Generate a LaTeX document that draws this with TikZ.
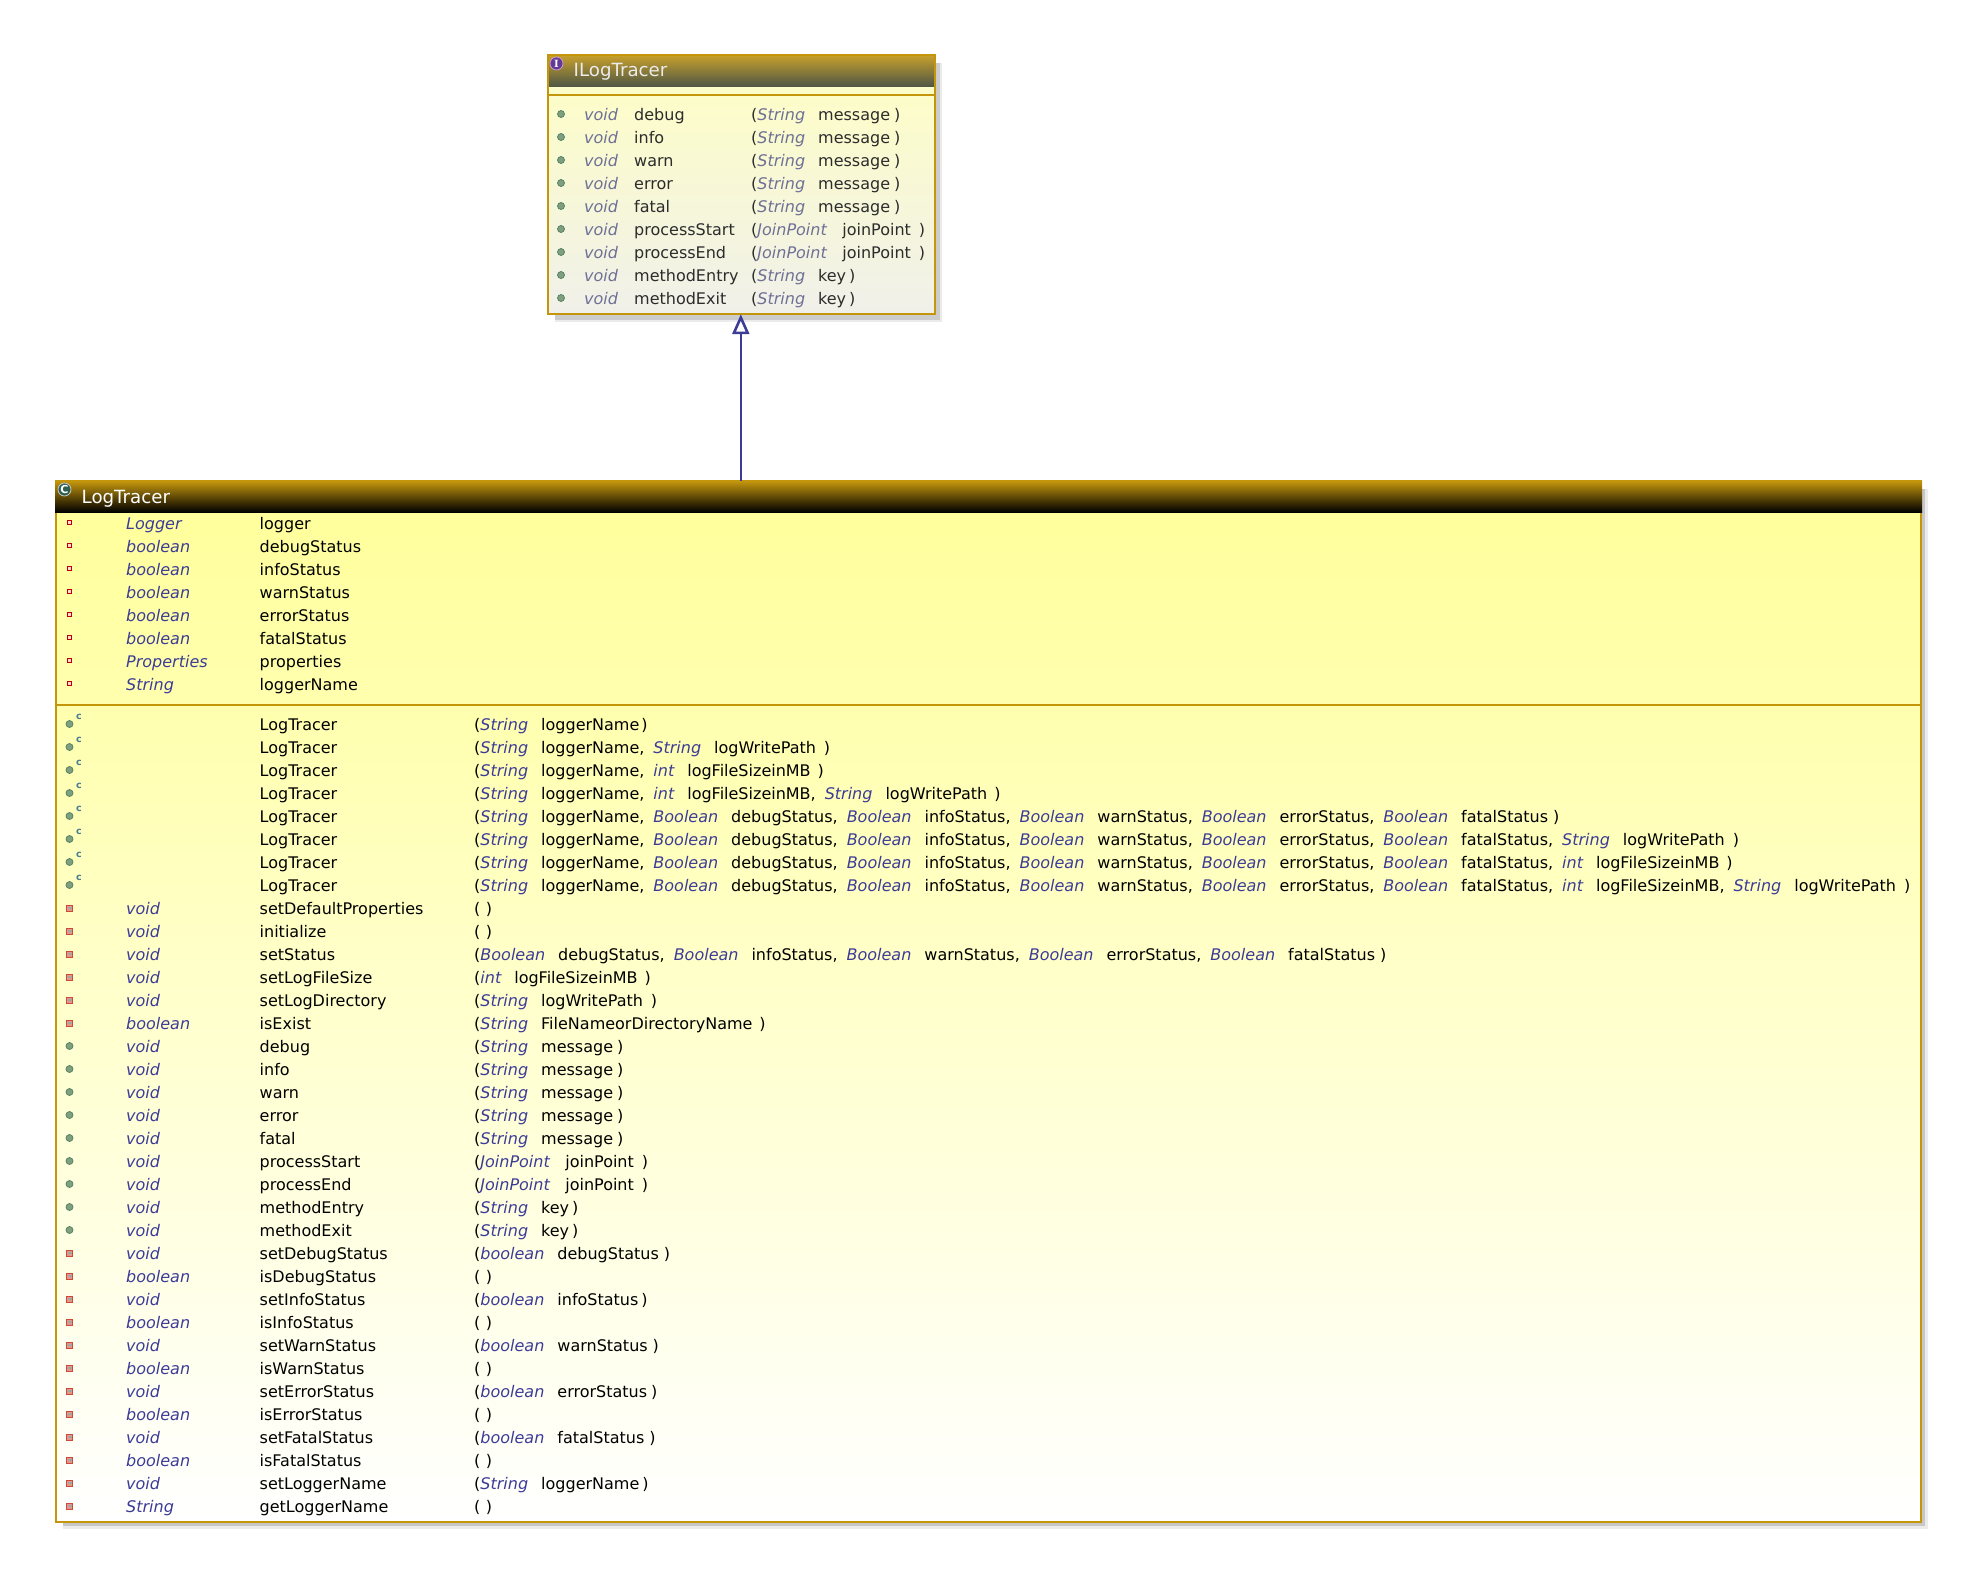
\documentclass[tikz,border=0pt]{standalone}
\usepackage{fontspec}
\setmainfont{DejaVu Sans}
\newfontfamily\iconfont{DejaVu Serif}
\usetikzlibrary{arrows.meta,positioning}
\definecolor{gold}{HTML}{C4960C}
\definecolor{typeblue}{HTML}{3C3C98}
\definecolor{typefade}{HTML}{6E7096}
\definecolor{namefade}{HTML}{2C2C2C}
\definecolor{navyline}{HTML}{3C3C96}
\definecolor{pubfill}{HTML}{7F9F7F}
\definecolor{pubedge}{HTML}{4F7F5F}
\definecolor{privedge}{HTML}{CC4A3C}
\definecolor{privfill}{HTML}{E09888}
\definecolor{classicon}{HTML}{2F5F4F}
\newcommand{\parm}[3][typeblue]{{\color{#1}\itshape #2}\hspace{13pt}#3}
\newcommand{\nx}{,\hspace{9pt}}
\newcommand{\cp}[1]{\hspace{#1pt})}
\newcommand{\jp}{JoinPoint\hspace{2.5pt}}
\tikzset{
 rowtext/.style={anchor=base west, inner sep=0pt, font=\fontsize{16}{18}\selectfont},
 typetext/.style={rowtext, text=typeblue, font=\fontsize{16}{18}\selectfont\itshape},
 fadetype/.style={typetext, text=typefade},
 fadetext/.style={rowtext, text=namefade},
 titletext/.style={anchor=base west, inner sep=0pt, font=\fontsize{18.2}{20}\selectfont},
 classbody/.style={rectangle, inner sep=0pt},
 shadowbox/.style={fill=#1, draw=none},
 framebox/.style={draw=gold, line width=2.3pt},
 sepline/.style={draw=gold, line width=2pt},
 pubmark/.style={circle, inner sep=0pt, minimum size=7pt, fill=pubfill, draw=pubedge, line width=0.7pt},
 ctormark/.style={pubmark, label={[ctorc]35:c}},
 ctorc/.style={inner sep=0pt, label distance=4pt, text=black!45!cyan, font=\fontsize{9.5}{10}\bfseries\selectfont},
 fieldmark/.style={rectangle, inner sep=0pt, minimum size=4pt, fill=white!85!red, draw=red!75!black, line width=1.1pt},
 privmark/.style={rectangle, inner sep=0pt, minimum size=6pt, fill=privfill, draw=privedge, line width=1pt,
  path picture={\fill [black!35] ([shift={(-2,-0.7)}]path picture bounding box.center) rectangle ([shift={(2,0.7)}]path picture bounding box.center);}},
 iconmark/.style={circle, inner sep=0pt, minimum size=13pt, line width=0.8pt, text=white, font=\iconfont\fontsize{10}{10}\bfseries\selectfont}
}
\begin{document}
\begin{tikzpicture}[x=1pt,y=-1pt]
 \useasboundingbox (0,0) rectangle (1976,1577);

 \fill [shadowbox=black!8] (555,63) rectangle (942,322);
 \fill [shadowbox=black!20] (555,63) rectangle (940,320);
 \fill [shadowbox=black!8] (63,489) rectangle (1928,1529);
 \fill [shadowbox=black!22] (63,489) rectangle (1925,1526);

 \node (ilog) [classbody, minimum width=387pt, minimum height=259pt, top color={rgb,255:red,255;green,255;blue,196}, bottom color={rgb,255:red,240;green,240;blue,234}] at (741.5,184.5) {};
 \node (ilogtitle) [classbody, minimum width=387pt, minimum height=31pt, anchor=north, top color={rgb,255:red,200;green,160;blue,44}, bottom color={rgb,255:red,80;green,88;blue,70}] at (ilog.north) {};
 \draw [framebox] (ilog.north west) rectangle (ilog.south east);
 \draw [sepline] (ilog.west |- 0,95) -- (ilog.east |- 0,95);
 \node (ilogicon) [iconmark, fill=violet!60!blue!70!white!75!black, draw=white!60!violet] at (556.5,63.5) {I};
 \node (ilogname) [titletext, text=white!92!black] at (573.5,76) {ILogTracer};

 \foreach \nm/\argl [count=\i from 0] in {
  debug/{\parm[typefade]{String}{message}\cp{4}},
  info/{\parm[typefade]{String}{message}\cp{4}},
  warn/{\parm[typefade]{String}{message}\cp{4}},
  error/{\parm[typefade]{String}{message}\cp{4}},
  fatal/{\parm[typefade]{String}{message}\cp{4}},
  processStart/{\parm[typefade]{\jp}{joinPoint}\cp{8}},
  processEnd/{\parm[typefade]{\jp}{joinPoint}\cp{8}},
  methodEntry/{\parm[typefade]{String}{key}\cp{3}},
  methodExit/{\parm[typefade]{String}{key}\cp{3}}} {
  \node (ilm\i) [pubmark] at (561,{114+23*\i}) {};
  \node (ilt\i) [fadetype] at (584,{120+23*\i}) {void};
  \node (iln\i) [fadetext] at (634,{120+23*\i}) {\nm};
  \node (ila\i) [fadetext] at (751,{120+23*\i}) {(\argl};
 }

 \node (log) [classbody, minimum width=1865pt, minimum height=1041pt, top color=yellow!40!white, bottom color=white] at (988.5,1001.5) {};
 \draw [framebox] (log.north west) rectangle (log.south east);
 \node (logtitle) [classbody, minimum width=1867pt, minimum height=31pt, anchor=north, top color=gold, bottom color=black] at (log.north) {};
 \draw [sepline] (log.west |- 0,705) -- (log.east |- 0,705);
 \node (logicon) [iconmark, fill=classicon, draw=white!55!gray, font=\fontsize{11}{11}\bfseries\selectfont] at (64.5,489.5) {C};
 \node (logname) [titletext, text=white] at (81.5,503.5) {LogTracer};

 \foreach \ftype/\nm [count=\i from 0] in {Logger/logger, boolean/debugStatus, boolean/infoStatus, boolean/warnStatus, boolean/errorStatus, boolean/fatalStatus, Properties/properties, String/loggerName} {
  \node (fm\i) [fieldmark] at (69.5,{522.5+23*\i}) {};
  \node (ft\i) [typetext] at (126,{529.5+23*\i}) {\ftype};
  \node (fn\i) [rowtext] at (259.5,{529.5+23*\i}) {\nm};
 }

 \foreach \mk/\rtype/\nm/\argl [count=\i from 0] in {
  ctormark//LogTracer/{\parm{String}{loggerName}\cp{2}},
  ctormark//LogTracer/{\parm{String}{loggerName}\nx\parm{String}{logWritePath}\cp{8}},
  ctormark//LogTracer/{\parm{String}{loggerName}\nx\parm{int}{logFileSizeinMB}\cp{7}},
  ctormark//LogTracer/{\parm{String}{loggerName}\nx\parm{int}{logFileSizeinMB}\nx\parm{String}{logWritePath}\cp{7}},
  ctormark//LogTracer/{\parm{String}{loggerName}\nx\parm{Boolean}{debugStatus}\nx\parm{Boolean}{infoStatus}\nx\parm{Boolean}{warnStatus}\nx\parm{Boolean}{errorStatus}\nx\parm{Boolean}{fatalStatus}\cp{5}},
  ctormark//LogTracer/{\parm{String}{loggerName}\nx\parm{Boolean}{debugStatus}\nx\parm{Boolean}{infoStatus}\nx\parm{Boolean}{warnStatus}\nx\parm{Boolean}{errorStatus}\nx\parm{Boolean}{fatalStatus}\nx\parm{String}{logWritePath}\cp{8}},
  ctormark//LogTracer/{\parm{String}{loggerName}\nx\parm{Boolean}{debugStatus}\nx\parm{Boolean}{infoStatus}\nx\parm{Boolean}{warnStatus}\nx\parm{Boolean}{errorStatus}\nx\parm{Boolean}{fatalStatus}\nx\parm{int}{logFileSizeinMB}\cp{7}},
  ctormark//LogTracer/{\parm{String}{loggerName}\nx\parm{Boolean}{debugStatus}\nx\parm{Boolean}{infoStatus}\nx\parm{Boolean}{warnStatus}\nx\parm{Boolean}{errorStatus}\nx\parm{Boolean}{fatalStatus}\nx\parm{int}{logFileSizeinMB}\nx\parm{String}{logWritePath}\cp{8}},
  privmark/void/setDefaultProperties/{\cp{5.5}},
  privmark/void/initialize/{\cp{5.5}},
  privmark/void/setStatus/{\parm{Boolean}{debugStatus}\nx\parm{Boolean}{infoStatus}\nx\parm{Boolean}{warnStatus}\nx\parm{Boolean}{errorStatus}\nx\parm{Boolean}{fatalStatus}\cp{5}},
  privmark/void/setLogFileSize/{\parm{int}{logFileSizeinMB}\cp{7}},
  privmark/void/setLogDirectory/{\parm{String}{logWritePath}\cp{8}},
  privmark/boolean/isExist/{\parm{String}{FileNameorDirectoryName}\cp{7}},
  pubmark/void/debug/{\parm{String}{message}\cp{4}},
  pubmark/void/info/{\parm{String}{message}\cp{4}},
  pubmark/void/warn/{\parm{String}{message}\cp{4}},
  pubmark/void/error/{\parm{String}{message}\cp{4}},
  pubmark/void/fatal/{\parm{String}{message}\cp{4}},
  pubmark/void/processStart/{\parm{\jp}{joinPoint}\cp{8}},
  pubmark/void/processEnd/{\parm{\jp}{joinPoint}\cp{8}},
  pubmark/void/methodEntry/{\parm{String}{key}\cp{3}},
  pubmark/void/methodExit/{\parm{String}{key}\cp{3}},
  privmark/void/setDebugStatus/{\parm{boolean}{debugStatus}\cp{5}},
  privmark/boolean/isDebugStatus/{\cp{5.5}},
  privmark/void/setInfoStatus/{\parm{boolean}{infoStatus}\cp{3}},
  privmark/boolean/isInfoStatus/{\cp{5.5}},
  privmark/void/setWarnStatus/{\parm{boolean}{warnStatus}\cp{5}},
  privmark/boolean/isWarnStatus/{\cp{5.5}},
  privmark/void/setErrorStatus/{\parm{boolean}{errorStatus}\cp{4}},
  privmark/boolean/isErrorStatus/{\cp{5.5}},
  privmark/void/setFatalStatus/{\parm{boolean}{fatalStatus}\cp{5}},
  privmark/boolean/isFatalStatus/{\cp{5.5}},
  privmark/void/setLoggerName/{\parm{String}{loggerName}\cp{3}},
  privmark/String/getLoggerName/{\cp{5.5}}} {
  \node (mm\i) [\mk] at (69.5,{724+23*\i}) {};
  \node (mt\i) [typetext] at (126,{730+23*\i}) {\rtype};
  \node (mn\i) [rowtext] at (259.5,{730+23*\i}) {\nm};
  \node (ma\i) [rowtext] at (474,{730+23*\i}) {(\argl};
 }

 \draw [navyline, line width=2.2pt, -{Triangle[open, length=20pt, width=17pt, line width=2.6pt]}] ([xshift=-0.7pt]ilog.south |- log.north) -- ([xshift=-0.7pt]ilog.south);
\end{tikzpicture}
\end{document}
